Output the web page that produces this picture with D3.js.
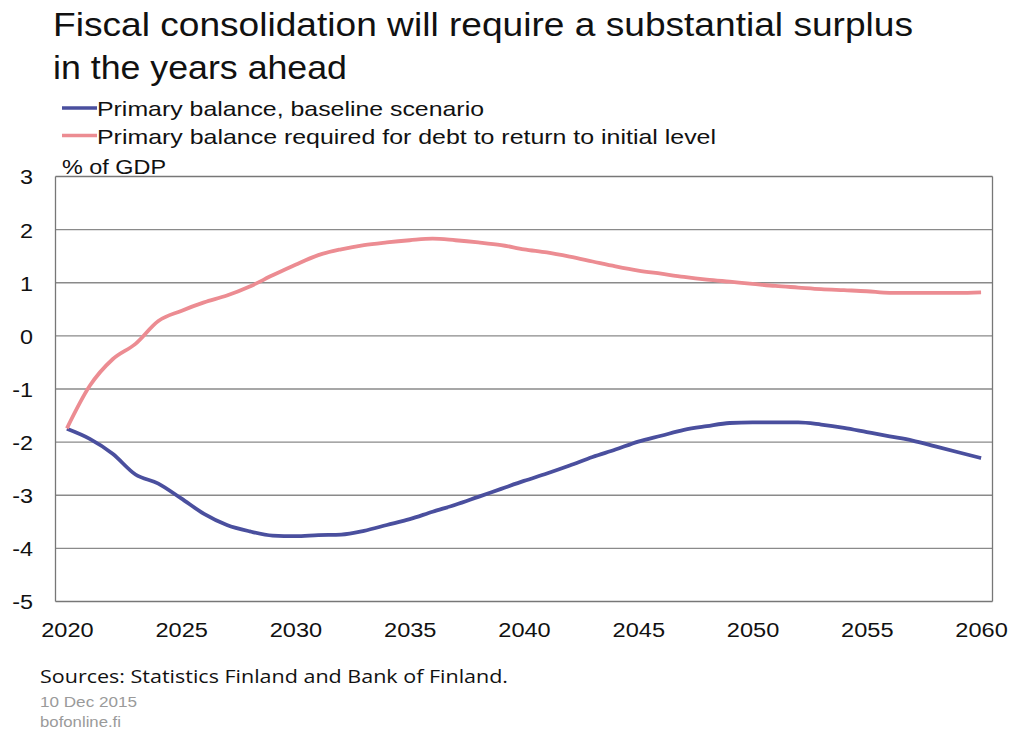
<!DOCTYPE html>
<html>
<head>
<meta charset="utf-8">
<script src="https://cdn.jsdelivr.net/npm/d3@7"></script>
<style>
  body { margin: 0; background: #fff; }
  text { font-family: "Liberation Sans", Arial, sans-serif; }
</style>
</head>
<body>
<svg id="canvas"></svg>
<script>
// values, % of GDP
let years = d3.range(2020, 2061);
let baseline = [
  -1.75, -1.94, -2.22, -2.61, -2.78, -3.06, -3.35, -3.56, -3.68, -3.76,
  -3.77, -3.75, -3.74, -3.67, -3.56, -3.45, -3.31, -3.18, -3.03, -2.88,
  -2.73, -2.59, -2.44, -2.28, -2.14, -1.99, -1.88, -1.77, -1.70, -1.64,
  -1.63, -1.63, -1.63, -1.67, -1.73, -1.81, -1.89, -1.97, -2.08, -2.19,
  -2.30
];
let required = [
  -1.74, -0.94, -0.44, -0.15, 0.28, 0.47, 0.63, 0.76, 0.93, 1.14,
  1.34, 1.52, 1.63, 1.71, 1.76, 1.80, 1.83, 1.80, 1.76, 1.71,
  1.63, 1.57, 1.49, 1.40, 1.31, 1.23, 1.17, 1.11, 1.06, 1.02,
  0.98, 0.94, 0.91, 0.88, 0.86, 0.84, 0.81, 0.81, 0.81, 0.81,
  0.82
];
let yTicks = [3, 2, 1, 0, -1, -2, -3, -4, -5];
let xTicks = [2020, 2025, 2030, 2035, 2040, 2045, 2050, 2055, 2060];
let seriesNames = [
  "Primary balance, baseline scenario",
  "Primary balance required for debt to return to initial level"
];
let seriesColors = ["#4a4f9e", "#ec8c92"];

let width = 1011, height = 733;
let plotLeft = 55.5, plotRight = 992.5, plotTop = 176.5, plotBottom = 601.5;

let canvas = d3.select("#canvas").attr("width", width).attr("height", height);

let x = d3.scaleLinear().domain([2019.5, 2060.5]).range([plotLeft, plotRight]);
let y = d3.scaleLinear().domain([-5, 3]).range([plotBottom, plotTop]);

// the original picture is a little wider than its fonts
let stretch = (sel, k) => {
  sel.each(function () {
    let w = this.getComputedTextLength();
    d3.select(this).attr("textLength", w * k).attr("lengthAdjust", "spacingAndGlyphs");
  });
};
let addText = (tx, ty, size, fill, str, len) => {
  let t = canvas.append("text").attr("x", tx).attr("y", ty)
    .attr("font-size", size).attr("fill", fill).text(str);
  if (len) t.attr("textLength", len).attr("lengthAdjust", "spacingAndGlyphs");
  return t;
};

// title
addText(53, 36, 32.5, "#111", "Fiscal consolidation will require a substantial surplus", 860);
addText(53, 79, 32.5, "#111", "in the years ahead", 294);

// legend
let legendLens = [387, 619];
seriesNames.forEach((name, i) => {
  let ly = 108 + i * 27.5;
  canvas.append("line")
    .attr("x1", 62).attr("x2", 97)
    .attr("y1", ly).attr("y2", ly)
    .attr("stroke", seriesColors[i]).attr("stroke-width", 3.5);
  addText(97, ly + 8, 21, "#111", name, legendLens[i]);
});

addText(62, 174, 19.5, "#111", "% of GDP", 104);

// grid lines
canvas.append("g")
  .selectAll("line")
  .data(yTicks)
  .enter()
  .append("line")
  .attr("x1", plotLeft).attr("x2", plotRight)
  .attr("y1", (d) => y(d)).attr("y2", (d) => y(d))
  .attr("stroke", (d) => (d === 3 || d === -5 ? "#777" : "#8a8a8a"))
  .attr("stroke-width", 1.3);

// frame sides
canvas.append("line").attr("x1", plotLeft).attr("x2", plotLeft)
  .attr("y1", plotTop).attr("y2", plotBottom).attr("stroke", "#777").attr("stroke-width", 1.3);
canvas.append("line").attr("x1", plotRight).attr("x2", plotRight)
  .attr("y1", plotTop).attr("y2", plotBottom).attr("stroke", "#777").attr("stroke-width", 1.3);

// y axis labels
let yAxis = d3.axisLeft(y).tickValues(yTicks).tickSize(0).tickPadding(0)
  .tickFormat((d) => String(d));
let gy = canvas.append("g").attr("transform", "translate(33,0)").call(yAxis);
gy.select(".domain").remove();
gy.selectAll("text").attr("font-size", 20.5).attr("fill", "#111")
  .attr("font-family", "Liberation Sans, Arial, sans-serif").attr("dy", "0.36em")
  .call(stretch, 1.14);

// x axis labels
let xAxis = d3.axisBottom(x).tickValues(xTicks).tickSize(0).tickPadding(0)
  .tickFormat((d) => String(d));
let gx = canvas.append("g").attr("transform", "translate(0,622)").call(xAxis);
gx.select(".domain").remove();
gx.selectAll("text").attr("font-size", 20.5).attr("fill", "#111")
  .attr("font-family", "Liberation Sans, Arial, sans-serif")
  .call(stretch, 1.15);

// lines
let line = d3.line()
  .x((d, i) => x(years[i]))
  .y((d) => y(d))
  .curve(d3.curveMonotoneX);

[baseline, required].forEach((data, i) => {
  canvas.append("path")
    .datum(data)
    .attr("d", line)
    .attr("fill", "none")
    .attr("stroke", seriesColors[i])
    .attr("stroke-width", 3.8)
    .attr("stroke-linejoin", "round");
});

// footer
addText(40, 683, 18.5, "#111", "Sources: Statistics Finland and Bank of Finland.", 468)
  .style("font-family", "'Open Sans', 'Noto Sans', sans-serif");
addText(40, 707, 14, "#9a9a9a", "10 Dec 2015", 97);
addText(40, 726.5, 14, "#9a9a9a", "bofonline.fi", 81);
</script>
</body>
</html>
